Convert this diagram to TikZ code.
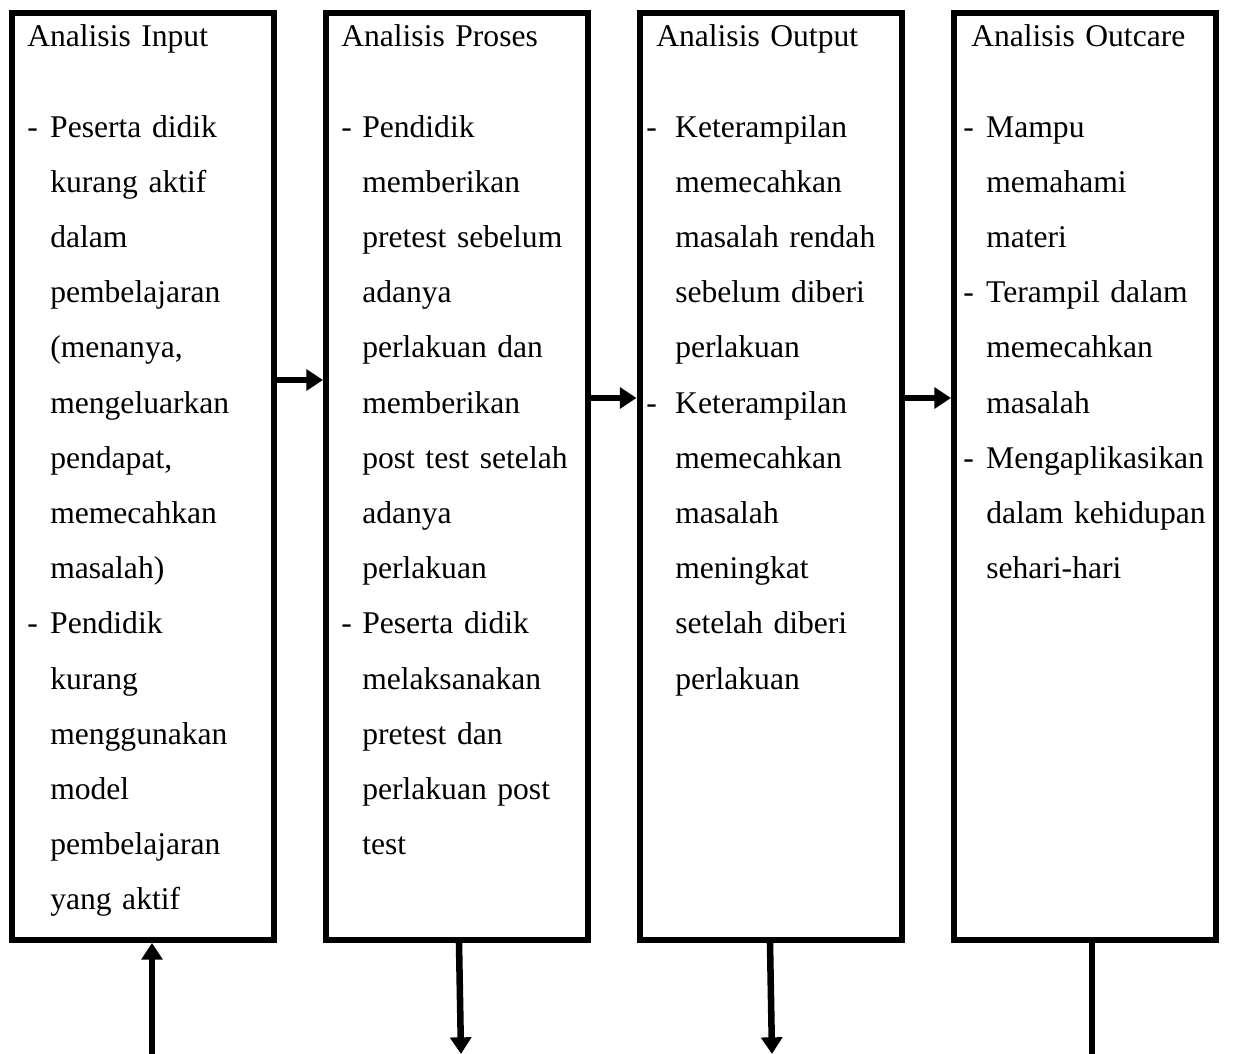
\documentclass[tikz,border=0pt]{standalone}
\usepackage{fontspec}
\setmainfont{Liberation Serif}
\usetikzlibrary{arrows.meta}
\newlength\ind
\newcommand\Dd{\makebox[\ind][l]{-}}
\newcommand\Ii{\hspace*{\ind}}
\begin{document}
\begin{tikzpicture}[x=0.75pt,y=-0.75pt,
 box/.style={draw,line width=4.5pt,rectangle,inner sep=0pt,minimum width=196.5pt,minimum height=695.25pt},
 txt/.style={anchor=base west,inner sep=0pt,text width=190pt,align=left,font=\fontsize{23.7pt}{41.4pt}\selectfont},
 arr/.style={line width=4.9pt,-{Triangle[length=12.5pt,width=15.5pt]}},
 plainline/.style={line width=4.9pt}]
\useasboundingbox (0,0) rectangle (1233,1054);
\node[box] (b1) at (142.5,476.5) {};
\node[box] (b2) at (457,476.5) {};
\node[box] (b3) at (770.5,476.5) {};
\node[box] (b4) at (1085,476.5) {};
% texts
\node[txt] (t1) at (27,46) {\setlength\ind{17.25pt}Analisis Input\\[26.85pt]
\Dd Peserta didik\\ \Ii kurang aktif\\ \Ii dalam\\ \Ii pembelajaran\\ \Ii (menanya,\\ \Ii mengeluarkan\\ \Ii pendapat,\\ \Ii memecahkan\\ \Ii masalah)\\
\Dd Pendidik\\ \Ii kurang\\ \Ii menggunakan\\ \Ii model\\ \Ii pembelajaran\\ \Ii yang aktif};
\node[txt] (t2) at (341,46) {\setlength\ind{15.75pt}Analisis Proses\\[26.85pt]
\Dd Pendidik\\ \Ii memberikan\\ \Ii pretest sebelum\\ \Ii adanya\\ \Ii perlakuan dan\\ \Ii memberikan\\ \Ii post test setelah\\ \Ii adanya\\ \Ii perlakuan\\
\Dd Peserta didik\\ \Ii melaksanakan\\ \Ii pretest dan\\ \Ii perlakuan post\\ \Ii test};
\node[txt] (t3) at (646,46) {\setlength\ind{21.75pt}\hspace*{7.5pt}Analisis Output\\[26.85pt]
\Dd Keterampilan\\ \Ii memecahkan\\ \Ii masalah rendah\\ \Ii sebelum diberi\\ \Ii perlakuan\\
\Dd Keterampilan\\ \Ii memecahkan\\ \Ii masalah\\ \Ii meningkat\\ \Ii setelah diberi\\ \Ii perlakuan};
\node[txt] (t4) at (963,46) {\setlength\ind{17.25pt}\hspace*{6pt}Analisis Outcare\\[26.85pt]
\Dd Mampu\\ \Ii memahami\\ \Ii materi\\
\Dd Terampil dalam\\ \Ii memecahkan\\ \Ii masalah\\
\Dd Mengaplikasikan\\ \Ii dalam kehidupan\\ \Ii sehari-hari};
% helper coordinates
\coordinate (ya) at (0,380);
\coordinate (yb) at (0,398);
\coordinate (in1) at (152,1054);
\coordinate (o2a) at (459,0);
\coordinate (o2) at (461,1054);
\coordinate (o3a) at (770,0);
\coordinate (o3) at (772,1054);
\coordinate (o4a) at (1092,0);
\coordinate (o4) at (1092,1054);
% connectors
\draw[arr] (b1.east |- ya) -- (b2.west |- ya);
\draw[arr] (b2.east |- yb) -- (b3.west |- yb);
\draw[arr] (b3.east |- yb) -- (b4.west |- yb);
\draw[arr] (in1) -- (in1 |- b1.south);
\draw[arr] (o2a |- b2.south) -- (o2);
\draw[arr] (o3a |- b3.south) -- (o3);
\draw[plainline] (o4a |- b4.south) -- (o4);
\end{tikzpicture}
\end{document}
